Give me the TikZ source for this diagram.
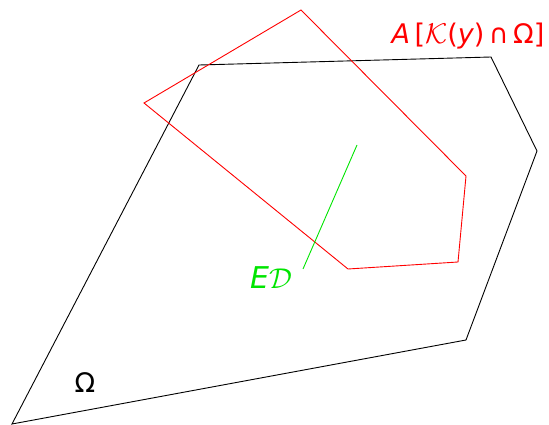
\documentclass[tikz,border=0pt]{standalone}
\usepackage{fontspec}
\usepackage{graphicx}
\newfontfamily\djs{DejaVu Sans}
\newcommand{\bigcal}[1]{\raisebox{0pt}{\scalebox{1.15}{$\mathcal{#1}$}}}
\begin{document}
\begin{tikzpicture}[x=1pt,y=-1pt,
  lbl/.style={inner sep=0pt,font=\djs\fontsize{27}{32}\selectfont},
  edge/.style={line width=0.9pt}]
\useasboundingbox (0,0) rectangle (549,425);
% black polygon
\coordinate (b1) at (199,65);
\coordinate (b2) at (491,57);
\coordinate (b3) at (537,151);
\coordinate (b4) at (466,340);
\coordinate (b5) at (12,424);
\draw[edge,black] (b1) -- (b2) -- (b3) -- (b4) -- (b5) -- cycle;
% red polygon
\coordinate (r1) at (301,10);
\coordinate (r2) at (466,176);
\coordinate (r3) at (458,262);
\coordinate (r4) at (348,269);
\coordinate (r5) at (144,103);
\draw[edge,red] (r1) -- (r2) -- (r3) -- (r4) -- (r5) -- cycle;
% green segment
\coordinate (g1) at (357,145);
\coordinate (g2) at (303,269);
\draw[edge,green!90!black] (g1) -- (g2);
% labels
\node[lbl,text=red] (la) at (468,36) {\itshape A\,\upshape[\bigcal{K}(\itshape y\upshape)\,∩\,Ω]};
\node[lbl,text=green!90!black,font=\djs\fontsize{30}{36}\selectfont] (le) at (271,278) {\itshape E\bigcal{D}};
\node[lbl,text=black] (lo) at (85,383) {Ω};
\end{tikzpicture}
\end{document}
